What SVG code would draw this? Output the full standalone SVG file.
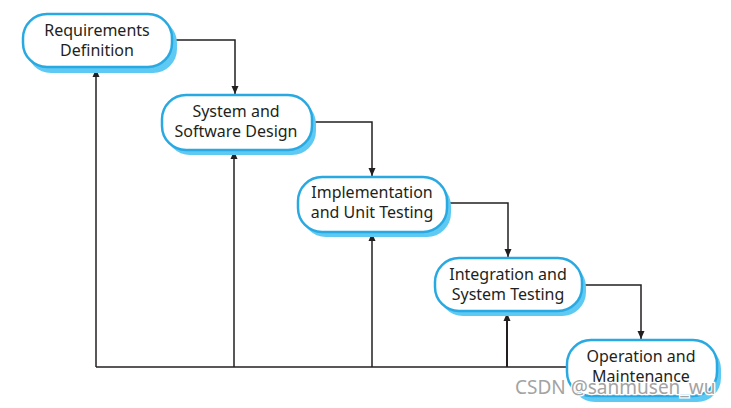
<svg xmlns="http://www.w3.org/2000/svg" width="731" height="408" viewBox="0 0 731 408">
<style>
.shadow{fill:#5ec9f2}
.box{fill:#fff;stroke:#29a9e1;stroke-width:2.5}
.lbl{font-family:"Noto Sans","Liberation Sans",sans-serif;font-size:16px;fill:#231f20;text-anchor:middle}
.ln{fill:none;stroke:#231f20;stroke-width:1.5}
.wm{font-family:"Noto Sans","Liberation Sans",sans-serif;font-size:19px;fill:#a3a3a3;stroke:#fff;stroke-width:2.5;paint-order:stroke}
</style>
<defs>
<marker id="arr" markerWidth="9" markerHeight="9" refX="8" refY="4.5" orient="auto" markerUnits="userSpaceOnUse">
<path d="M0,1 L8,4.5 L0,8 Z" fill="#231f20"/>
</marker>
</defs>
<rect width="731" height="408" fill="#fff"/>
<g id="connectors">
<path class="ln" d="M172,40 H235 V94" marker-end="url(#arr)"/>
<path class="ln" d="M312,122 H372 V176" marker-end="url(#arr)"/>
<path class="ln" d="M447,203 H508 V257" marker-end="url(#arr)"/>
<path class="ln" d="M582,285 H641 V339" marker-end="url(#arr)"/>
<path class="ln" d="M567,367 H96"/>
<path class="ln" d="M96,367 V69" marker-end="url(#arr)"/>
<path class="ln" d="M234,367 V151" marker-end="url(#arr)"/>
<path class="ln" d="M372,367 V233" marker-end="url(#arr)"/>
<path class="ln" style="stroke-width:2" d="M507,367 V313" marker-end="url(#arr)"/>
</g>
<g id="n1">
<rect class="shadow" x="27" y="19" width="150" height="54" rx="24"/>
<rect class="box" x="23" y="14" width="149" height="53" rx="24"/>
<text class="lbl" x="97" y="36">Requirements</text>
<text class="lbl" x="97" y="56">Definition</text>
</g>
<g id="n2">
<rect class="shadow" x="166" y="100" width="150" height="55" rx="24"/>
<rect class="box" x="162" y="95" width="150" height="55" rx="24"/>
<text class="lbl" x="236" y="117">System and</text>
<text class="lbl" x="236" y="137">Software Design</text>
</g>
<g id="n3">
<rect class="shadow" x="302" y="182" width="149" height="55" rx="24"/>
<rect class="box" x="298" y="177" width="149" height="55" rx="24"/>
<text class="lbl" x="372" y="198">Implementation</text>
<text class="lbl" x="372" y="218">and Unit Testing</text>
</g>
<g id="n4">
<rect class="shadow" x="439" y="263" width="147" height="53" rx="24"/>
<rect class="box" x="435" y="258" width="147" height="53" rx="24"/>
<text class="lbl" x="508" y="280">Integration and</text>
<text class="lbl" x="508" y="300">System Testing</text>
</g>
<g id="n5">
<rect class="shadow" x="571" y="345" width="150" height="57" rx="24"/>
<rect class="box" x="567" y="340" width="150" height="56" rx="24"/>
<text class="lbl" x="641" y="362">Operation and</text>
<text class="lbl" x="641" y="382">Maintenance</text>
</g>
<text class="wm" x="515" y="394">CSDN @sanmusen_wu</text>
</svg>
